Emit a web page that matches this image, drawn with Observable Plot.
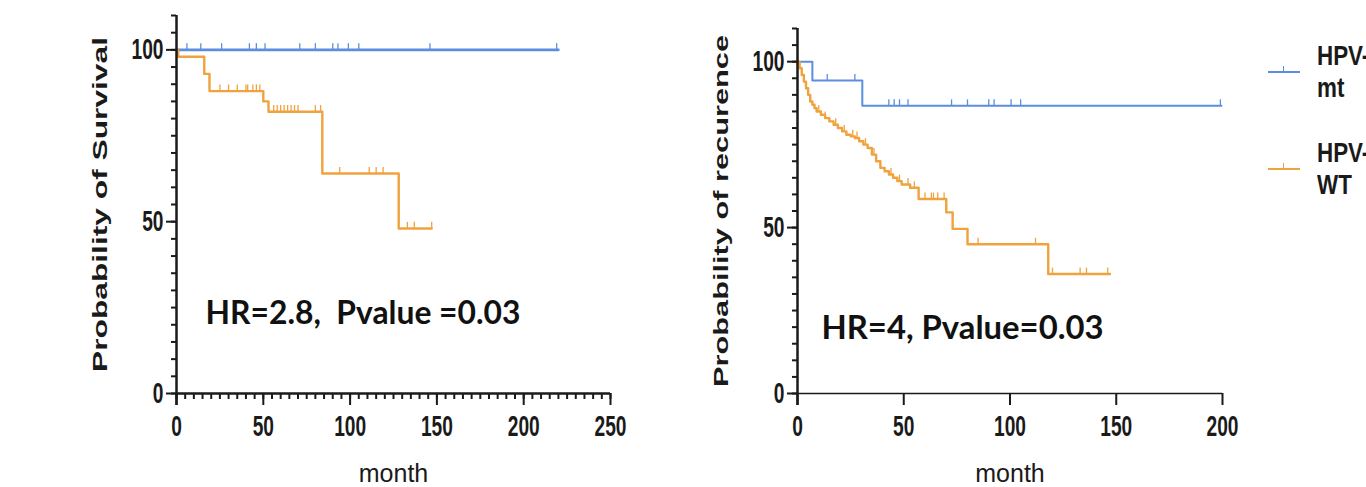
<!DOCTYPE html>
<html>
<head>
<meta charset="utf-8">
<script src="https://cdn.jsdelivr.net/npm/d3@7"></script>
<script src="https://cdn.jsdelivr.net/npm/@observablehq/plot@0.6"></script>
<style>
  html, body { margin: 0; padding: 0; background: #fff; overflow: hidden; }
  #wrap { position: relative; width: 1366px; height: 487px; overflow: hidden; }
  #left, #right { position: absolute; top: 0; }
  #left { left: 0; }
  #right { left: 640px; }
  #legend { position: absolute; left: 1262px; top: 40px; color: #1a1a1a; font-family: "Liberation Sans", Arial, sans-serif; font-weight: bold; font-size: 28px; line-height: 32px; }
  .item { position: relative; height: 97px; }
  .txt { position: absolute; left: 55px; top: 0; transform: scaleX(0.8); transform-origin: 0 0; white-space: nowrap; }
  .swatch { position: absolute; left: 6px; top: 31px; width: 32px; height: 0; border-top: 2px solid; }
  .swatch::after { content: ""; position: absolute; left: 15px; top: -7px; height: 6px; border-left: 1.5px solid; border-color: inherit; }
</style>
</head>
<body>
<div id="wrap">
  <div id="left"></div>
  <div id="right"></div>
  <div id="legend"></div>
</div>
<script>
// ---------- data ----------
const seriesNames = ["HPV-mt", "HPV-WT"];
const legendLines = [["HPV-", "mt"], ["HPV-", "WT"]];
const seriesColors = ["#5b8ee0", "#f0a23e"];

// Survival (left panel)
const survMtMonths = [0, 220];
const survMtValues = [100, 100];
const survMtCensor = [6, 14, 26, 42, 46, 51, 71, 80, 90, 93, 99, 105, 146, 219];

const survWtMonths = [0, 1, 16, 19, 50, 53, 84, 128, 147];
const survWtValues = [100, 98, 93, 88, 85, 82, 64, 48, 48];
const survWtCensor = [25, 30, 35, 40, 41, 44, 46, 48, 56, 58, 60, 62, 64, 66, 68, 70, 80, 83, 94, 111, 115, 119, 133, 137, 147];

// Recurrence (right panel)
const recMtMonths = [0, 7, 30.5, 199.5];
const recMtValues = [100, 94.3, 86.7, 86.7];
const recMtCensor = [14, 27, 43, 45.5, 48, 52, 72.5, 80, 90, 92.5, 100.5, 105, 199];

const recWtMonths = [0, 1, 2, 3, 4, 5, 6, 7, 8, 9, 11, 13, 15, 17, 19, 21, 23, 25, 27, 29, 31, 33, 35, 37, 39, 41, 43, 45, 47, 49, 53, 57, 70, 73, 80, 118, 147];
const recWtValues = [100, 98, 96, 94, 92, 90, 88, 87, 86, 85, 84, 83, 82, 81, 80, 79, 78, 77.5, 77, 76, 75, 74, 72, 70, 68, 67, 66, 65, 64, 63, 62, 58.6, 54.6, 49.6, 45, 36, 36];
const recWtCensor = [10, 13, 18, 22, 26, 28, 32, 36, 44, 48, 52, 55, 60, 63, 64, 66, 69, 85, 112, 120, 133, 136, 146];

const survXTicks = [0, 50, 100, 150, 200, 250];
const recXTicks = [0, 50, 100, 150, 200];
const yTicks = [0, 50, 100];

const survAnnotation = "HR=2.8,  Pvalue =0.03";
const recAnnotation = "HR=4, Pvalue=0.03";
const survYLabel = "Probability of Survival";
const recYLabel = "Probability of recurence";
const xLabel = "month";

// ---------- helpers ----------
function steps(months, values) {
  return months.map((m, i) => ({month: m, value: values[i]}));
}
function censorRows(times, months, values) {
  return times.map(t => {
    let v = values[0];
    for (let i = 0; i < months.length; i++) if (months[i] <= t) v = values[i];
    return {month: t, value: v};
  });
}

const sans = '"Liberation Sans", Arial, "DejaVu Sans", sans-serif';
const humanist = 'Lato, "Open Sans", "Noto Sans", sans-serif';
const ink = "#1a1a1a";

function panel({width, marginLeft, marginRight, marginTop, xDomain, xTicks, xMinor, xAxisWidth,
                curves, annotation, annDx, annDy, yLabel}) {
  const marks = [];
  for (const c of curves) {
    marks.push(Plot.line(steps(c.months, c.values), {x: "month", y: "value", curve: "step-after", stroke: c.color, strokeWidth: c.width}));
    marks.push(Plot.ruleX(censorRows(c.censor, c.months, c.values), {x: "month", y1: "value", y2: d => d.value + 1.8, stroke: c.color, strokeWidth: 1.3}));
  }
  marks.push(Plot.axisY({ticks: d3.range(0, 111, 5), tickSize: 5, tickFormat: () => "", color: ink, strokeWidth: 2, label: null}));
  marks.push(Plot.axisY({ticks: yTicks, tickSize: 10, tickPadding: 3, color: ink, strokeWidth: 2, fontSize: 29, fontWeight: "bold", fontFamily: sans, label: null}));
  if (xMinor) marks.push(Plot.axisX({ticks: xMinor, tickSize: 6, tickFormat: () => "", color: ink, strokeWidth: 2, label: null}));
  marks.push(Plot.axisX({ticks: xTicks, tickSize: 12, tickPadding: 10, color: ink, strokeWidth: 2, fontSize: 29, fontWeight: "bold", fontFamily: sans, label: null}));
  marks.push(Plot.ruleY([0], {stroke: ink, strokeWidth: xAxisWidth}));
  marks.push(Plot.ruleX([0], {stroke: ink, strokeWidth: 2.5, insetBottom: -12}));
  marks.push(Plot.text([xLabel], {text: d => d, frameAnchor: "bottom", dy: 88, fontSize: 25, fontFamily: sans, fill: ink}));
  marks.push(Plot.text([yLabel], {text: d => d, frameAnchor: "left", textAnchor: "middle", rotate: -90, dx: -76, fontSize: 21, fontWeight: "bold", fontFamily: sans, fill: ink}));
  marks.push(Plot.text([annotation], {text: d => d, frameAnchor: "left", textAnchor: "start", dx: annDx, dy: annDy, fontSize: 32, fontWeight: "bold", fontFamily: humanist, fill: "#111"}));

  return Plot.plot({
    width, height: 487,
    marginLeft, marginRight, marginTop, marginBottom: 94,
    x: {domain: xDomain},
    y: {domain: [0, 110]},
    style: {background: "transparent", fontFamily: sans, color: ink},
    marks
  });
}

function fitText(svg, str, len) {
  svg.querySelectorAll("text").forEach(t => {
    if (t.textContent === str) { t.setAttribute("textLength", len); t.setAttribute("lengthAdjust", "spacingAndGlyphs"); }
  });
}
function compressTicks(svg, factor) {
  svg.querySelectorAll('g[aria-label$="tick label"] text').forEach(t => {
    const w = t.getComputedTextLength();
    if (w > 0) { t.setAttribute("textLength", w * factor); t.setAttribute("lengthAdjust", "spacingAndGlyphs"); }
  });
}

const leftSvg = panel({
  width: 660, marginLeft: 176, marginRight: 50, marginTop: 15,
  xDomain: [0, 250], xTicks: survXTicks, xMinor: d3.range(0, 251, 5), xAxisWidth: 2.5,
  curves: [
    {months: survMtMonths, values: survMtValues, censor: survMtCensor, color: seriesColors[0], width: 2.6},
    {months: survWtMonths, values: survWtValues, censor: survWtCensor, color: seriesColors[1], width: 2.4}
  ],
  annotation: survAnnotation, annDx: 29, annDy: 109, yLabel: survYLabel
});
document.getElementById("left").appendChild(leftSvg);

const rightSvg = panel({
  width: 726, marginLeft: 157, marginRight: 144, marginTop: 28,
  xDomain: [0, 200], xTicks: recXTicks, xMinor: null, xAxisWidth: 1.6,
  curves: [
    {months: recMtMonths, values: recMtValues, censor: recMtCensor, color: seriesColors[0], width: 2},
    {months: recWtMonths, values: recWtValues, censor: recWtCensor, color: seriesColors[1], width: 2.4}
  ],
  annotation: recAnnotation, annDx: 24, annDy: 117.5, yLabel: recYLabel
});
document.getElementById("right").appendChild(rightSvg);

compressTicks(leftSvg, 0.66);
compressTicks(rightSvg, 0.66);
fitText(leftSvg, survAnnotation, 315);
fitText(rightSvg, recAnnotation, 282);
fitText(leftSvg, survYLabel, 335);
fitText(rightSvg, recYLabel, 352);

// legend
const legend = document.getElementById("legend");
legendLines.forEach((lines, i) => {
  const item = document.createElement("div");
  item.className = "item";
  item.title = seriesNames[i];
  const sw = document.createElement("div");
  sw.className = "swatch";
  sw.style.borderColor = seriesColors[i];
  item.appendChild(sw);
  const txt = document.createElement("div");
  txt.className = "txt";
  lines.forEach(t => { const d = document.createElement("div"); d.textContent = t; txt.appendChild(d); });
  item.appendChild(txt);
  legend.appendChild(item);
});
</script>
</body>
</html>
